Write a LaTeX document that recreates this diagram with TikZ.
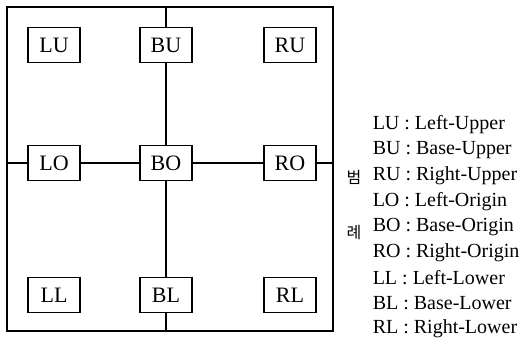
\documentclass[tikz,border=0pt]{standalone}
\usepackage{fontspec}
\setmainfont{Liberation Serif}
\newfontfamily\kofont{Noto Sans CJK KR}
\begin{document}
\begin{tikzpicture}[x=1pt, y=-1pt, line width=1.5pt,
    zone/.style={draw, rectangle, minimum width=52pt, minimum height=35pt, inner sep=0pt, font=\fontsize{22}{22}\selectfont},
    key/.style={anchor=west, inner sep=0pt, font=\fontsize{20}{20}\selectfont},
    kor/.style={inner sep=0pt, font=\kofont\fontsize{16}{16}\selectfont}]
            \useasboundingbox (0,0) rectangle (525,339);
            \def \xl {54}
            \def \xb {166}
            \def \xr {290}
            \def \yu {45}
            \def \yo {163}
            \def \yd {295}
            % frame
            \draw (7,7) rectangle (333,331);
            \coordinate (top) at (\xb, 7);
            \coordinate (bot) at (\xb, 331);
            \coordinate (lft) at (7, \yo);
            \coordinate (rgt) at (333, \yo);
            % zones
            \node[zone] (lu) at (\xl, \yu) {LU};
            \node[zone] (bu) at (\xb, \yu) {BU};
            \node[zone] (ru) at (\xr, \yu) {RU};
            \node[zone] (lo) at (\xl, \yo) {LO};
            \node[zone] (bo) at (\xb, \yo) {BO};
            \node[zone] (ro) at (\xr, \yo) {RO};
            \node[zone] (ll) at (\xl, \yd) {LL};
            \node[zone] (bl) at (\xb, \yd) {BL};
            \node[zone] (rl) at (\xr, \yd) {RL};
            \draw (top) -- (bu);
            \draw (bu) -- (bo);
            \draw (bo) -- (bl);
            \draw (bl) -- (bot);
            \draw (lft) -- (lo);
            \draw (lo) -- (bo);
            \draw (bo) -- (ro);
            \draw (ro) -- (rgt);
            % legend
            \node[kor] (k1) at (354, 177) {범};
            \node[kor] (k2) at (354, 233) {례};
            \node[key] (e1) at (372, 125) {LU : Left-Upper};
            \node[key] (e2) at (372, 150.5) {BU : Base-Upper};
            \node[key] (e3) at (372, 176) {RU : Right-Upper};
            \node[key] (e4) at (372, 201.5) {LO : Left-Origin};
            \node[key] (e5) at (372, 227) {BO : Base-Origin};
            \node[key] (e6) at (372, 252.5) {RO : Right-Origin};
            \node[key] (e7) at (372, 278) {LL : Left-Lower};
            \node[key] (e8) at (372, 303.5) {BL : Base-Lower};
            \node[key] (e9) at (372, 329) {RL : Right-Lower};
        \end{tikzpicture}
\end{document}
